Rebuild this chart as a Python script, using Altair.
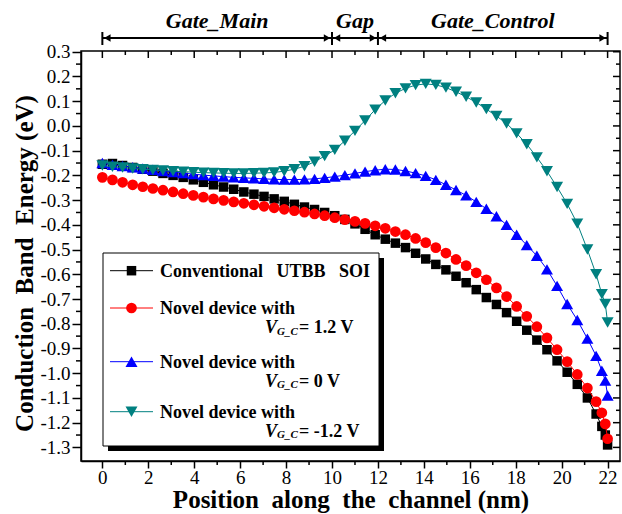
import altair as alt
import pandas as pd

FONT = "Liberation Serif"

# ---------------- data ----------------
position_nm = [0.0, 0.44, 0.88, 1.32, 1.76, 2.2, 2.64, 3.08, 3.52, 3.96,
               4.4, 4.84, 5.28, 5.72, 6.16, 6.6, 7.04, 7.48, 7.92, 8.36,
               8.8, 9.24, 9.68, 10.12, 10.56, 11.0, 11.44, 11.88, 12.32, 12.76,
               13.2, 13.64, 14.08, 14.52, 14.96, 15.4, 15.84, 16.28, 16.72, 17.16,
               17.6, 18.04, 18.48, 18.92, 19.36, 19.8, 20.24, 20.68, 21.12, 21.5,
               21.75, 21.9, 22.0]

conventional = [-0.155, -0.152, -0.16, -0.168, -0.175, -0.183, -0.192, -0.2, -0.208, -0.218,
                -0.228, -0.238, -0.247, -0.256, -0.267, -0.276, -0.285, -0.295, -0.305, -0.317,
                -0.328, -0.338, -0.35, -0.363, -0.378, -0.396, -0.418, -0.44, -0.458, -0.474,
                -0.492, -0.515, -0.538, -0.56, -0.582, -0.608, -0.634, -0.662, -0.694, -0.722,
                -0.755, -0.79, -0.826, -0.866, -0.905, -0.95, -0.996, -1.045, -1.1, -1.165,
                -1.215, -1.25, -1.29]

novel_pos = [-0.208, -0.218, -0.228, -0.238, -0.246, -0.253, -0.26, -0.267, -0.274, -0.281,
             -0.288, -0.295, -0.301, -0.307, -0.313, -0.319, -0.325, -0.331, -0.337, -0.343,
             -0.349, -0.356, -0.363, -0.371, -0.379, -0.386, -0.394, -0.404, -0.414, -0.427,
             -0.44, -0.455, -0.472, -0.492, -0.514, -0.54, -0.565, -0.594, -0.622, -0.655,
             -0.69, -0.73, -0.77, -0.812, -0.857, -0.905, -0.953, -1.005, -1.06, -1.115,
             -1.16, -1.205, -1.265]

novel_zero = [-0.15, -0.157, -0.162, -0.167, -0.172, -0.177, -0.182, -0.187, -0.191, -0.195,
              -0.199, -0.202, -0.205, -0.208, -0.21, -0.212, -0.214, -0.216, -0.217, -0.217,
              -0.216, -0.214, -0.21, -0.205, -0.199, -0.192, -0.185, -0.179, -0.175, -0.176,
              -0.182, -0.191, -0.202, -0.218, -0.238, -0.259, -0.281, -0.307, -0.335, -0.365,
              -0.4, -0.44, -0.482, -0.525, -0.58, -0.647, -0.72, -0.785, -0.86, -0.93,
              -0.99, -1.03, -1.09]

novel_neg = [-0.16, -0.165, -0.168, -0.172, -0.175, -0.178, -0.18, -0.183, -0.185, -0.187,
             -0.189, -0.19, -0.191, -0.192, -0.192, -0.191, -0.19, -0.188, -0.183, -0.175,
             -0.163, -0.145, -0.122, -0.097, -0.06, -0.02, 0.022, 0.066, 0.103, 0.132,
             0.152, 0.165, 0.17, 0.166, 0.155, 0.138, 0.118, 0.095, 0.068, 0.04,
             0.01, -0.03, -0.074, -0.127, -0.183, -0.247, -0.315, -0.395, -0.5, -0.6,
             -0.68, -0.72, -0.795]

series_names = ["Conventional UTBB SOI", "Novel device, VG_C = 1.2 V",
                "Novel device, VG_C = 0 V", "Novel device, VG_C = -1.2 V"]
series_values = [conventional, novel_pos, novel_zero, novel_neg]
series_colors = ["#000000", "#ff0000", "#0000ff", "#008080"]
series_shapes = ["square", "circle", "triangle-up", "triangle-down"]
series_sizes = [90, 115, 144, 144]

region_names = ["Gate_Main", "Gap", "Gate_Control"]
region_start = [0, 10, 12]
region_end = [10, 12, 22]
region_bounds = [0, 10, 12, 22]

x_major = [0, 2, 4, 6, 8, 10, 12, 14, 16, 18, 20, 22]
x_minor = [1, 3, 5, 7, 9, 11, 13, 15, 17, 19, 21]
y_major = [-1.3, -1.2, -1.1, -1.0, -0.9, -0.8, -0.7, -0.6, -0.5, -0.4, -0.3,
           -0.2, -0.1, 0.0, 0.1, 0.2, 0.3]
y_minor = [-1.25, -1.15, -1.05, -0.95, -0.85, -0.75, -0.65, -0.55, -0.45, -0.35,
           -0.25, -0.15, -0.05, 0.05, 0.15, 0.25]

# ---------------- layout ----------------
W, H = 539, 410
XDOM = [-0.93, 22.54]
YDOM = [-1.355, 0.303]
NB = "\u00a0"

xscale = alt.Scale(domain=XDOM, nice=False, zero=False)
yscale = alt.Scale(domain=YDOM, nice=False, zero=False)

x_axis = alt.Axis(
    values=x_major, labelExpr="format(datum.value, 'd')",
    title=f"Position{NB} along{NB} the{NB} channel (nm)",
    tickSize=7, tickWidth=1.5, tickColor="black", domainColor="black", domainWidth=1.5,
    labelFont=FONT, labelFontSize=19, labelColor="black", labelPadding=0, labelFlush=False,
    labelOverlap=False,
    titleFont=FONT, titleFontSize=25, titleFontWeight="bold", titleColor="black",
    titleBaseline="alphabetic", titleY=46, grid=False)
y_axis = alt.Axis(
    values=y_major, labelExpr="replace(format(datum.value, '.1f'), '\u2212', '-')",
    title=f"Conduction{NB} Band{NB} Energy (eV)",
    tickSize=9, tickWidth=1.5, tickColor="black", domainColor="black", domainWidth=1.5,
    labelFont=FONT, labelFontSize=19, labelColor="black", labelPadding=2, labelFlush=False,
    labelOverlap=False,
    titleFont=FONT, titleFontSize=25, titleFontWeight="bold", titleColor="black",
    titleX=-44, titleY=212, grid=False)


def X():
    return alt.X("x:Q", scale=xscale, axis=x_axis)


def Y():
    return alt.Y("E:Q", scale=yscale, axis=y_axis)


layers = []
for name, vals, col, shp, sz in zip(series_names, series_values, series_colors,
                                    series_shapes, series_sizes):
    d = pd.DataFrame({"x": position_nm, "E": vals, "series": name})
    base = alt.Chart(d)
    layers.append(base.mark_line(color=col, strokeWidth=1).encode(x=X(), y=Y()))
    layers.append(base.mark_point(shape=shp, filled=True, size=sz, color=col, opacity=1)
                  .encode(x=X(), y=Y()))

# ---------------- minor / mirrored ticks ----------------
xmaj = alt.Chart(pd.DataFrame({"x": x_major}))
xmin = alt.Chart(pd.DataFrame({"x": x_minor}))
ymaj = alt.Chart(pd.DataFrame({"E": y_major}))
ymin = alt.Chart(pd.DataFrame({"E": y_minor}))
tk = dict(color="black", strokeWidth=1.5)
layers += [
    xmin.mark_rule(**tk).encode(x=X(), y=alt.value(H), y2=alt.value(H + 4)),
    xmaj.mark_rule(**tk).encode(x=X(), y=alt.value(0), y2=alt.value(7)),
    xmin.mark_rule(**tk).encode(x=X(), y=alt.value(0), y2=alt.value(4)),
    ymin.mark_rule(**tk).encode(y=Y(), x=alt.value(0), x2=alt.value(-5)),
    ymaj.mark_rule(**tk).encode(y=Y(), x=alt.value(W), x2=alt.value(W - 7)),
    ymin.mark_rule(**tk).encode(y=Y(), x=alt.value(W), x2=alt.value(W - 4)),
]

# ---------------- region annotations above the plot ----------------
reg_s = pd.DataFrame({"x": region_start, "e": region_end})
reg_e = pd.DataFrame({"x": region_end})
reg_t = pd.DataFrame({"name": region_names,
                      "x": [(a + b) / 2 for a, b in zip(region_start, region_end)]})
layers += [
    alt.Chart(reg_s).mark_rule(color="black", strokeWidth=2).encode(
        x=X(), x2="e:Q", y=alt.value(-13)),
    alt.Chart(reg_s).mark_point(shape="triangle-left", filled=True, size=55, color="black",
                                opacity=1, xOffset=5).encode(x=X(), y=alt.value(-13)),
    alt.Chart(reg_e).mark_point(shape="triangle-right", filled=True, size=55, color="black",
                                opacity=1, xOffset=-5).encode(x=X(), y=alt.value(-13)),
    alt.Chart(pd.DataFrame({"x": region_bounds})).mark_rule(color="black", strokeWidth=2)
    .encode(x=X(), y=alt.value(-19), y2=alt.value(-6)),
    alt.Chart(reg_t).mark_text(font=FONT, fontSize=22, fontWeight="bold", fontStyle="italic",
                               baseline="alphabetic", color="black").encode(
        x=X(), y=alt.value(-23), text="name:N"),
]

# ---------------- legend box ----------------
one = alt.Chart(pd.DataFrame({"k": [0]}))
layers += [
    one.mark_rect(color="black").encode(x=alt.value(27), x2=alt.value(303),
                                         y=alt.value(207), y2=alt.value(400)),
    one.mark_rect(fill="white", stroke="black", strokeWidth=1).encode(
        x=alt.value(22), x2=alt.value(298), y=alt.value(202), y2=alt.value(395)),
]


def txt(s, x, y, size=18, style="normal"):
    return one.mark_text(text=s, align="left", baseline="alphabetic", font=FONT,
                         fontSize=size, fontWeight="bold", fontStyle=style,
                         color="black").encode(x=alt.value(x), y=alt.value(y))


entry_y = [219.7, 257, 310.7, 360.7]
first_lines = [f"Conventional{NB}{NB} UTBB{NB}{NB} SOI", "Novel device with",
               "Novel device with", "Novel device with"]
second_vals = [None, "= 1.2 V", "= 0 V", "= -1.2 V"]
for yy, col, shp, sz, l1, l2 in zip(entry_y, series_colors, series_shapes, series_sizes,
                                     first_lines, second_vals):
    layers.append(one.mark_rule(color=col, strokeWidth=1).encode(
        x=alt.value(29), x2=alt.value(72), y=alt.value(yy)))
    layers.append(one.mark_point(shape=shp, filled=True, size=sz, color=col, opacity=1)
                  .encode(x=alt.value(50.5), y=alt.value(yy)))
    layers.append(txt(l1, 79, yy + 6))
    if l2:
        b2 = yy + 25
        layers.append(txt("V", 184, b2, 18, "italic"))
        layers.append(txt("G_C", 196, b2 + 1.5, 11, "italic"))
        layers.append(txt(l2, 218, b2))

chart = alt.layer(*layers).properties(
    width=W, height=H,
    autosize=alt.AutoSizeParams(type="none"),
    padding={"left": 81, "top": 51, "right": 2, "bottom": 53},
    background="white",
).configure_view(stroke="black", strokeWidth=1.5)

chart.save("out.html", embed_options={"renderer": "svg", "actions": False})
